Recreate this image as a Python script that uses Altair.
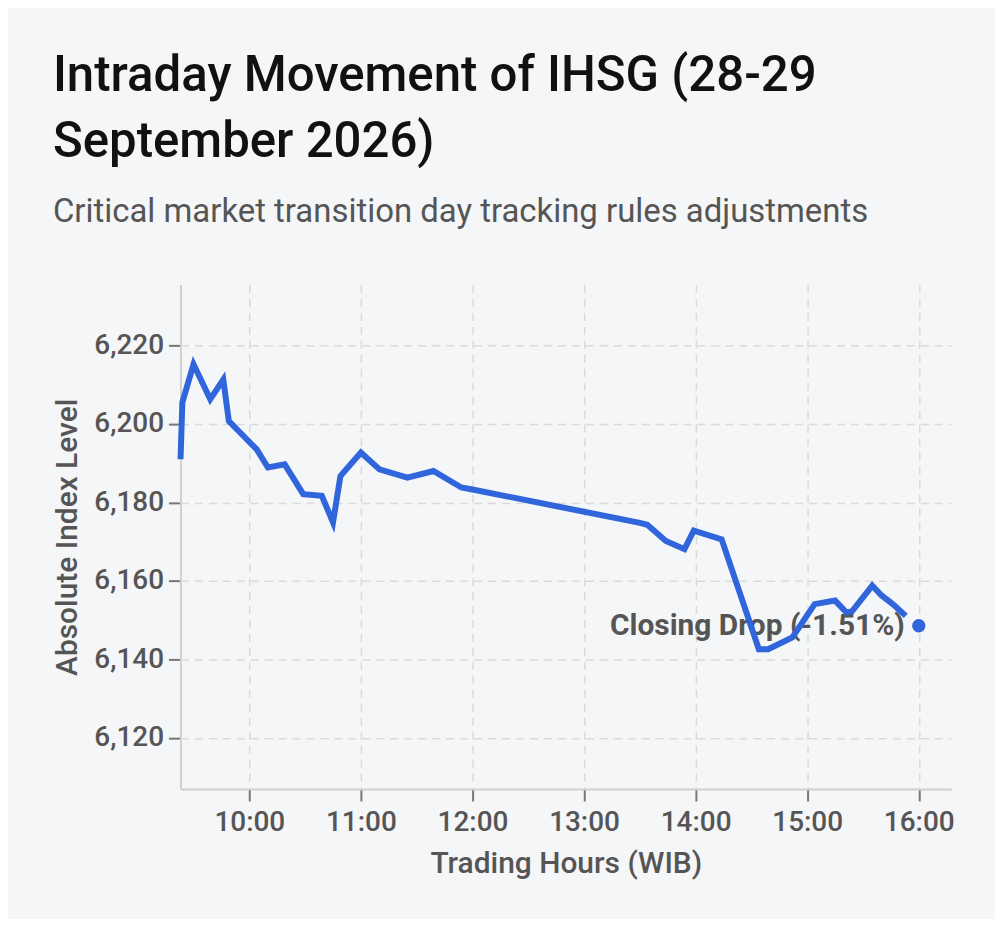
import altair as alt
import pandas as pd

times = ["09:23", "09:24", "09:30", "09:39", "09:46", "09:49", "10:04", "10:10",
         "10:19", "10:29", "10:39", "10:45", "10:49", "11:00", "11:10", "11:25",
         "11:39", "11:54", "12:00", "13:30", "13:34", "13:44", "13:54", "13:59",
         "14:14", "14:34", "14:39", "14:52", "15:04", "15:15", "15:21", "15:24",
         "15:35", "15:40", "15:46", "15:53"]
values = [6191.0, 6205.5, 6215.2, 6206.3, 6211.3, 6200.7, 6193.5, 6188.9,
          6189.7, 6182.1, 6181.7, 6174.9, 6186.7, 6192.7, 6188.4, 6186.3,
          6188.0, 6183.8, 6183.3, 6174.8, 6174.3, 6170.2, 6168.1, 6172.8,
          6170.6, 6142.6, 6142.6, 6145.6, 6154.1, 6155.0, 6152.0, 6152.2,
          6158.8, 6156.3, 6154.1, 6151.1]

close_time = ["16:00"]
close_value = [6148.6]
close_label = ["Closing Drop (-1.51%)"]

hour_ticks = [10, 11, 12, 13, 14, 15, 16]
level_ticks = [6120, 6140, 6160, 6180, 6200, 6220]


def to_hours(t):
    h, m = t.split(":")
    return int(h) + int(m) / 60.0


df = pd.DataFrame({"time": times, "hour": [to_hours(t) for t in times], "level": values})
close_df = pd.DataFrame({"time": close_time, "hour": [to_hours(t) for t in close_time],
                         "level": close_value, "label": close_label})

line_color = "#3065db"
grey = "#555555"

x_enc = alt.X("hour:Q",
              scale=alt.Scale(domain=[9.383, 16.29], nice=False, zero=False),
              axis=alt.Axis(title="Trading Hours (WIB)", values=hour_ticks,
                            labelExpr="datum.value + ':00'"))
y_enc = alt.Y("level:Q",
              scale=alt.Scale(domain=[6107, 6235.5], nice=False, zero=False),
              axis=alt.Axis(title="Absolute Index Level", values=level_ticks,
                            format=",.0f"))

text = alt.Chart(close_df).mark_text(
    align="right", baseline="middle", dx=-14, fontSize=30, fontWeight="bold",
    color=grey, font="Roboto"
).encode(x=x_enc, y=y_enc, text="label:N")

line = alt.Chart(df).mark_line(
    color=line_color, strokeWidth=6, strokeJoin="miter", strokeCap="butt"
).encode(x=x_enc, y=y_enc, order="hour:Q")

dot = alt.Chart(close_df).mark_point(
    filled=True, size=180, color=line_color, opacity=1
).encode(x=x_enc, y=y_enc)

chart = alt.layer(text, line, dot).properties(
    width=773,
    height=506,
    padding={"left": 45, "top": 42, "right": 40, "bottom": 39},
    background="#f5f6f8",
    title=alt.TitleParams(
        text=["Intraday Movement of IHSG (28-29", "September 2026)"],
        subtitle="Critical market transition day tracking rules adjustments",
        anchor="start",
        frame="bounds",
        font="Roboto",
        fontSize=49.3,
        fontWeight=500,
        color="#111111",
        lineHeight=66,
        subtitleFont="Roboto",
        subtitleFontSize=33,
        subtitleColor=grey,
        subtitleFontWeight="normal",
        subtitlePadding=29,
        offset=56,
    ),
).configure_view(
    stroke=None
).configure_axis(
    labelFont="Roboto",
    labelFontSize=28,
    labelFontWeight=500,
    labelColor=grey,
    titleFont="Roboto",
    titleFontSize=30,
    titleFontWeight=500,
    titleColor=grey,
    domainColor="#d0d0d0",
    domainWidth=2,
    tickColor="#777777",
    tickWidth=2,
    tickSize=12,
    gridColor="#dadada",
    gridDash=[8, 6],
    gridWidth=1.5,
).configure_axisY(
    labelPadding=5,
    titlePadding=11,
).configure_axisX(
    labelPadding=8,
    titlePadding=12,
)

chart.save("out.html", embed_options={"renderer": "svg", "actions": False})
